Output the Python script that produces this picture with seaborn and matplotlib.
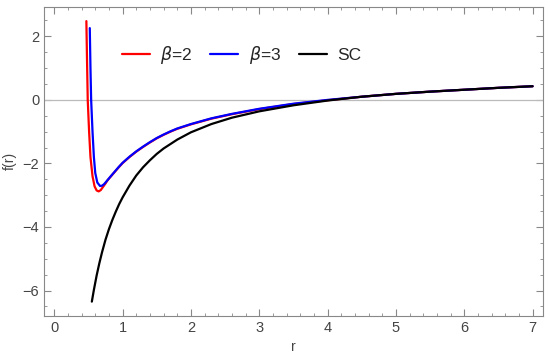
import pandas as pd
import seaborn as sns
import matplotlib.pyplot as plt
from matplotlib.ticker import MultipleLocator

# values
r_b2 = [0.47, 0.48, 0.49, 0.51, 0.53, 0.56, 0.59, 0.62, 0.65, 0.68, 0.72, 0.75, 0.78, 0.82, 0.88, 0.94,
        1.0, 1.1, 1.2, 1.3, 1.4, 1.5, 1.6, 1.7, 1.8, 2.0, 2.3, 2.6, 3.0, 3.5, 4.0, 4.5, 5.0, 5.5, 6.0, 6.5, 7.0]
f_b2 = [2.48, 1.2, 0.0, -1.0, -1.8, -2.4, -2.72, -2.85, -2.88, -2.84, -2.72, -2.63, -2.53, -2.43, -2.28, -2.13,
        -1.99, -1.80, -1.63, -1.48, -1.34, -1.21, -1.10, -1.00, -0.91, -0.77, -0.59, -0.45, -0.29, -0.13, -0.01,
        0.10, 0.19, 0.26, 0.32, 0.38, 0.43]

r_b3 = [0.52, 0.53, 0.54, 0.56, 0.58, 0.60, 0.63, 0.67, 0.70, 0.73, 0.77, 0.82, 0.88, 0.94,
        1.0, 1.1, 1.2, 1.3, 1.4, 1.5, 1.6, 1.7, 1.8, 2.0, 2.3, 2.6, 3.0, 3.5, 4.0, 4.5, 5.0, 5.5, 6.0, 6.5, 7.0]
f_b3 = [2.26, 1.0, 0.0, -1.0, -1.8, -2.3, -2.6, -2.71, -2.70, -2.65, -2.55, -2.42, -2.27, -2.12,
        -1.98, -1.79, -1.62, -1.47, -1.33, -1.20, -1.09, -0.99, -0.90, -0.76, -0.58, -0.44, -0.28, -0.12, 0.0,
        0.10, 0.19, 0.26, 0.32, 0.38, 0.43]

r_sc = [0.55, 0.58, 0.62, 0.66, 0.70, 0.75, 0.80, 0.85, 0.90, 0.95, 1.0, 1.1, 1.2, 1.3, 1.4, 1.5, 1.6,
        1.8, 2.0, 2.3, 2.6, 3.0, 3.5, 4.0, 4.5, 5.0, 5.5, 6.0, 6.5, 7.0]
f_sc = [-6.35, -5.98, -5.53, -5.14, -4.79, -4.4, -4.07, -3.78, -3.52, -3.28, -3.07, -2.7, -2.38, -2.12, -1.9,
        -1.7, -1.53, -1.25, -1.02, -0.76, -0.56, -0.36, -0.17, -0.02, 0.10, 0.19, 0.26, 0.32, 0.38, 0.43]

labels = [r'$\beta$=2', r'$\beta$=3', 'SC']
colors = ['#ff0000', '#0000ff', '#000000']

df = pd.concat([
    pd.DataFrame({'r': r_b2, 'f': f_b2, 'case': labels[0]}),
    pd.DataFrame({'r': r_b3, 'f': f_b3, 'case': labels[1]}),
    pd.DataFrame({'r': r_sc, 'f': f_sc, 'case': labels[2]}),
])

sns.set_style("ticks")
plt.rcParams['font.family'] = ['Liberation Sans', 'DejaVu Sans']
plt.rcParams['mathtext.fontset'] = 'dejavusans'

fig = plt.figure(figsize=(5.5, 3.59), dpi=100)
ax = fig.add_axes([0.08, 0.12, 0.907, 0.861])

ax.axhline(0, color='#bbbbbb', lw=0.9, zorder=1)
sns.lineplot(data=df, x='r', y='f', hue='case', palette=dict(zip(labels, colors)),
             hue_order=labels, lw=1.6, sort=False, estimator=None, ax=ax, zorder=3)

ax.set_xlim(-0.15, 7.15)
ax.set_ylim(-6.8, 2.93)
ax.xaxis.set_major_locator(MultipleLocator(1))
ax.xaxis.set_minor_locator(MultipleLocator(0.2))
ax.yaxis.set_major_locator(MultipleLocator(2))
ax.yaxis.set_minor_locator(MultipleLocator(0.5))
ax.tick_params(which='both', direction='in', top=True, right=True, color='#888888',
               labelcolor='#444444', labelsize=10.5)
ax.tick_params(which='major', length=5)
ax.tick_params(which='minor', length=2.5)
for s in ax.spines.values():
    s.set_color('#888888')

ax.set_xlabel('r', color='#444444', fontsize=10)
ax.set_ylabel('f(r)', color='#444444', fontsize=10)

leg = ax.legend(loc='upper left', bbox_to_anchor=(0.125, 0.93), ncol=3, frameon=False,
                fontsize=12.5, handlelength=1.6, columnspacing=1.05, handletextpad=0.6)

fig.savefig('out.png', dpi=100)
